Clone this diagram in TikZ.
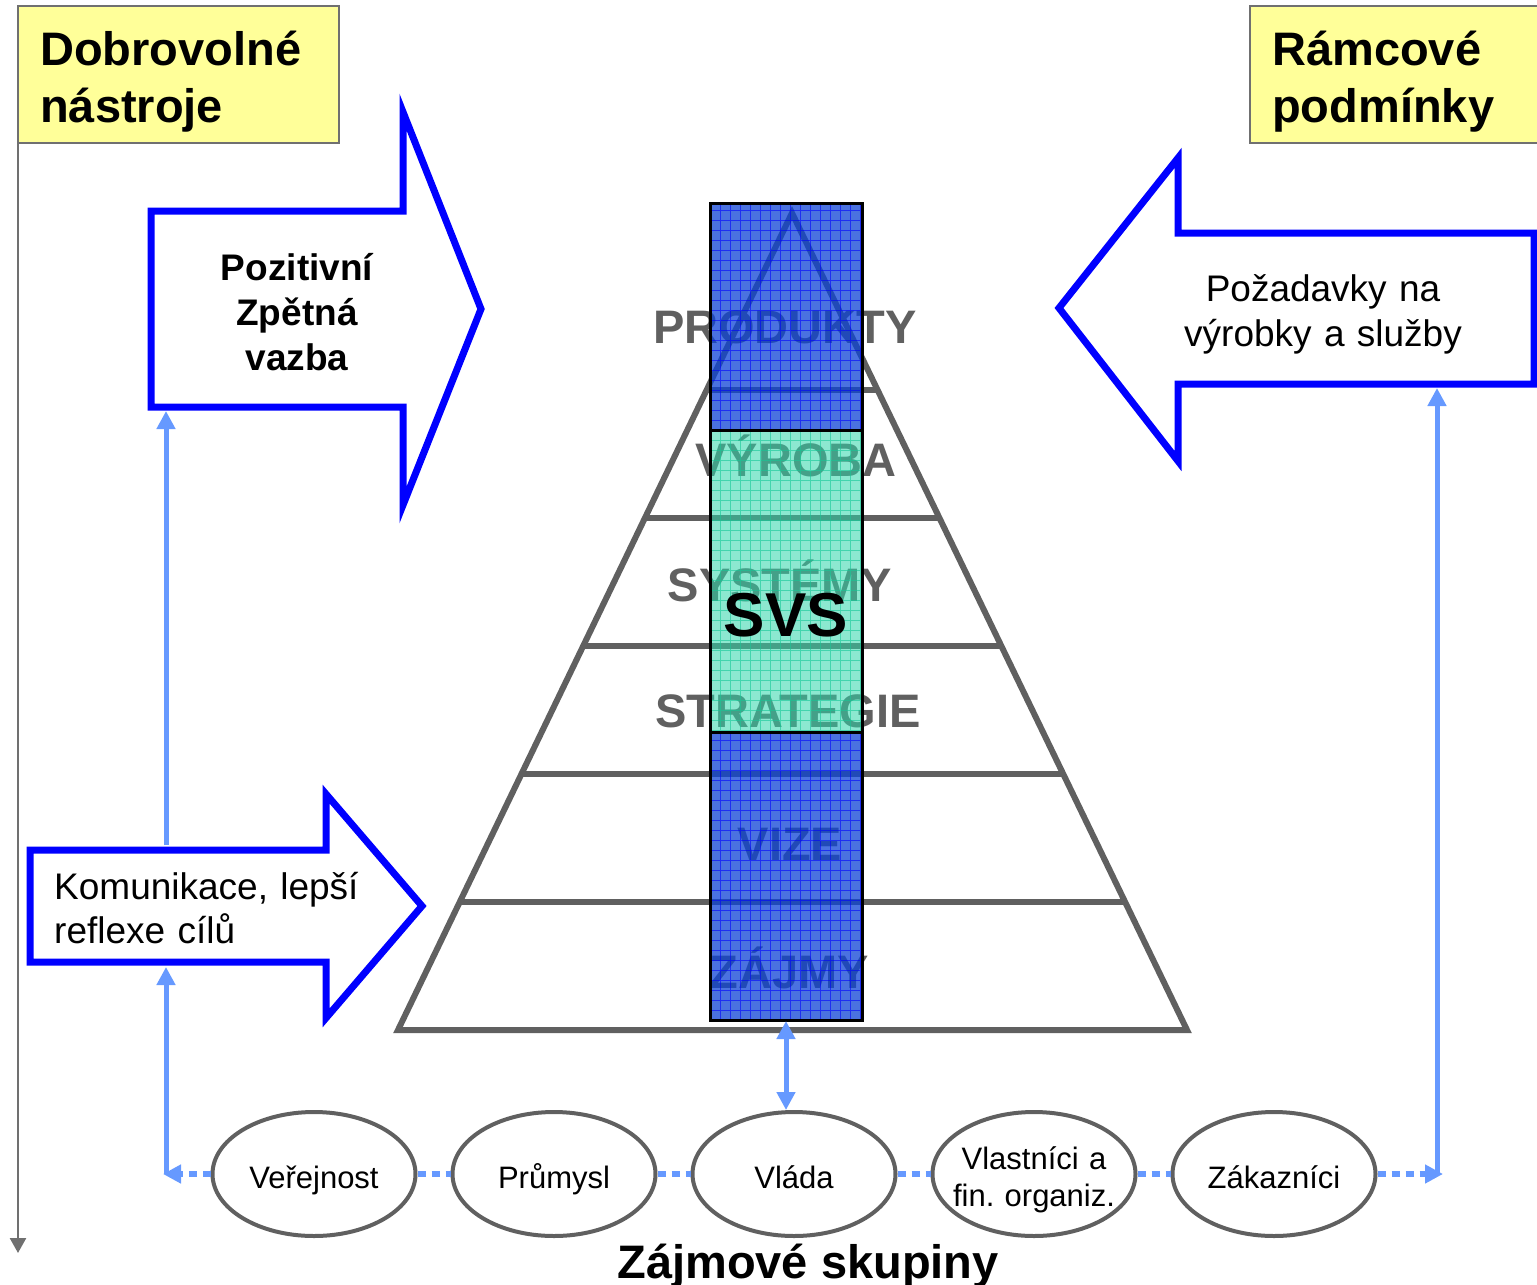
\documentclass[tikz,border=0pt]{standalone}
\usepackage{fontspec}
\setmainfont{Liberation Sans}
\usetikzlibrary{shapes.geometric,arrows.meta,calc}
\definecolor{myyellow}{RGB}{255,255,153}
\definecolor{myblue}{RGB}{0,0,255}
\definecolor{mylight}{RGB}{102,153,255}
\definecolor{mygray}{RGB}{96,96,96}
\definecolor{boxgray}{RGB}{112,112,112}
\definecolor{colblue}{RGB}{13,67,213}
\definecolor{colgreen}{RGB}{46,213,170}
\definecolor{gridgreen}{RGB}{20,200,150}
\newcommand{\fsz}[2]{\fontsize{#1}{#2}\selectfont}

\begin{document}
\begin{tikzpicture}[x=1pt,y=-1pt,
  ybox/.style={draw=boxgray,line width=2pt,fill=myyellow},
  hdr/.style={anchor=base west,inner sep=0pt,text width=260pt,align=left,font=\bfseries\fsz{47}{57}},
  txt/.style={inner sep=0pt,font=\fsz{37}{45}},
  big/.style={draw=myblue,line width=7pt,line join=miter},
  pyr/.style={draw=mygray,line width=6pt},
  lyr/.style={anchor=base,inner sep=0pt,text=mygray,font=\bfseries\fsz{47}{56}},
  grp/.style={ellipse,draw=mygray,line width=4pt,minimum width=203pt,minimum height=124pt,
    inner sep=0pt,text height=34pt,text depth=6pt,font=\fsz{31}{37}},
  conn/.style={draw=mylight,line width=5pt,-{Triangle[length=18pt,width=18pt]}},
  dotc/.style={draw=mylight,line width=6pt,dash pattern=on 8pt off 6pt}]

  \useasboundingbox (0,0) rectangle (1537,1285);

  % yellow headers
  \draw[ybox] (18,6) rectangle (339,143);
  \draw[ybox] (1250,6) rectangle (1545,143);
  \node[hdr] (dobro) at (40,65) {Dobrovolné\\nástroje};
  \node[hdr] (ramco) at (1272,65) {Rámcové\\podmínky};
  \draw[boxgray,line width=2.5pt,-{Triangle[length=15pt,width=16pt]}] (18,143) -- (18,1253);

  % pyramid and its layers
  \coordinate (ap) at (792,213);
  \coordinate (bl) at (398,1030);
  \coordinate (br) at (1187,1030);
  \draw[pyr] (ap) -- (bl) -- (br) -- cycle;
  \foreach \y in {390,518,646,774,902}
    \draw[pyr] ($(ap)!{(\y-213)/817}!(bl)$) -- ($(ap)!{(\y-213)/817}!(br)$);

  \node[lyr] (prod) at (785,343) {PRODUKTY};
  \node[lyr] (vyrob) at (796,476) {VÝROBA};
  \node[lyr] (syst) at (780,601) {SYSTÉMY};
  \node[lyr] (strat) at (788,727) {STRATEGIE};
  \node[lyr] (vize) at (790,860) {VIZE};
  \node[lyr] (zajmy) at (789,988) {ZÁJMY};

  % SVS column
  \fill[colblue,fill opacity=.75] (710,203) rectangle (862,430) (710,732) rectangle (862,1020);
  \fill[colgreen,fill opacity=.55] (710,430) rectangle (862,732);
  \draw[myblue,line width=1pt,opacity=.6,step=10pt] (710,430) grid (862,203) (710,1020) grid (862,732);
  \draw[gridgreen,line width=1pt,opacity=.6,step=10pt] (710,732) grid (862,430);
  \draw[line width=3pt] (710,203) rectangle (862,1020) (710,430) -- (862,430) (710,732) -- (862,732);
  \node[anchor=base,inner sep=0pt,font=\bfseries\fsz{62}{70}] (svs) at (786,636) {SVS};
  \coordinate (colbot) at (786,1021);

  % big arrows
  \draw[big] (151,211) -- (403,211) -- (403,112) -- (481,309) -- (403,505) -- (403,407) -- (151,407) -- cycle;
  \draw[big] (30,850) -- (326,850) -- (326,794) -- (422,906) -- (326,1018) -- (326,962) -- (30,962) -- cycle;
  \draw[big] (1534,233) -- (1178,233) -- (1178,158) -- (1059,308) -- (1178,461) -- (1178,384) -- (1534,384) -- cycle;

  \node[txt,anchor=base,text width=220pt,align=center,font=\bfseries\fsz{37}{45}] (pozit) at (297,280) {Pozitivní\\Zpětná\\vazba};
  \node[txt,anchor=base west,text width=320pt,align=left,font=\fsz{37}{44}] (komun) at (54,899) {Komunikace, lepší\\reflexe cílů};
  \node[txt,anchor=base,text width=320pt,align=center] (pozad) at (1323,301) {Požadavky na\\výrobky a služby};

  % interest groups
  \node[grp] (verej) at (314,1174) {Veřejnost};
  \node[grp] (prum) at (554,1174) {Průmysl};
  \node[grp] (vlada) at (794,1174) {Vláda};
  \node[grp,text width=200pt,align=center,inner xsep=-40pt,text height=33pt,text depth=43pt] (vlast) at (1034,1174) {Vlastníci a\\fin.\ organiz.};
  \node[grp] (zakaz) at (1274,1174) {Zákazníci};
  \node[anchor=base,inner sep=0pt,font=\bfseries\fsz{47}{56}] (zajsk) at (808,1278) {Zájmové skupiny};

  % connectors
  \coordinate (lc) at (166,1174);
  \coordinate (rc) at (1437,1174);
  \coordinate (kt) at (166,845);
  \coordinate (pb) at (166,411);
  \coordinate (kb) at (166,967);
  \coordinate (rb) at (1437,388);

  \draw[dotc] (verej) -- (prum);
  \draw[dotc] (prum) -- (vlada);
  \draw[dotc] (vlada) -- (vlast);
  \draw[dotc] (vlast) -- (zakaz);
  \draw[dotc,-{Triangle[length=18pt,width=18pt]},shorten >=-3pt] (verej) -- (lc);
  \draw[dotc,-{Triangle[length=18pt,width=18pt]},shorten >=-6pt] (zakaz) -- (rc);
  \draw[conn] (lc) -- (kb);
  \draw[conn] (kt) -- (pb);
  \draw[conn] (rc) -- (rb);
  \draw[conn,{Triangle[length=18pt,width=18pt]}-{Triangle[length=18pt,width=18pt]}] (colbot) -- (vlada.north -| colbot);

\end{tikzpicture}
\end{document}
